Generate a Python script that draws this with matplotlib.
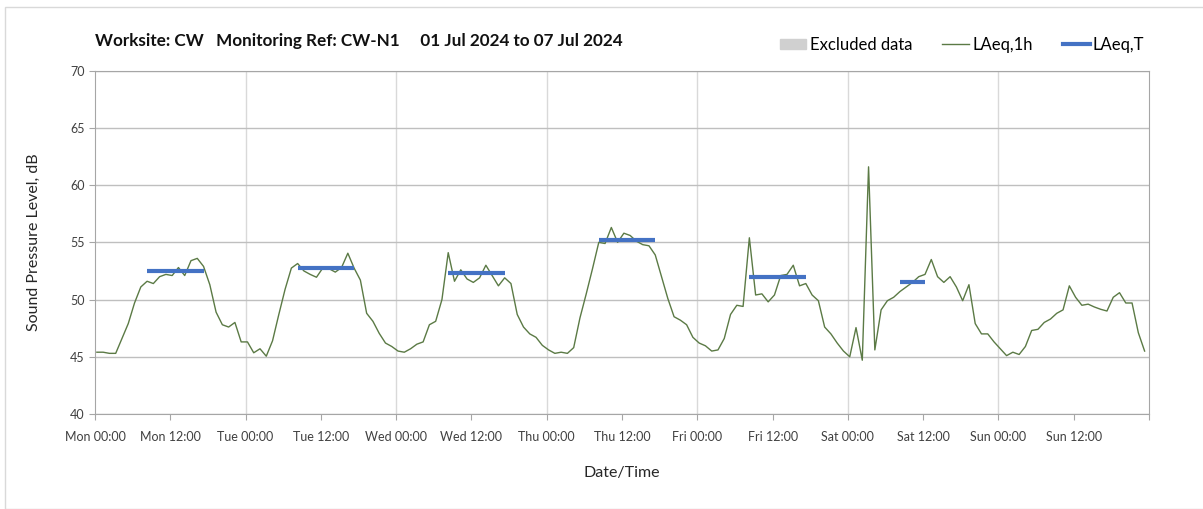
import numpy as np
import matplotlib
matplotlib.use("Agg")
import matplotlib.pyplot as plt
from matplotlib.patches import Patch, Rectangle
from matplotlib.lines import Line2D

plt.rcParams['font.family'] = ['Lato', 'DejaVu Sans']

# hourly LAeq,1h values, Mon 00:00 .. Sun 23:00
laeq_1h = [
    45.4, 45.4, 45.3, 45.3, 46.6, 47.9, 49.7, 51.1, 51.6, 51.4, 52.0, 52.2,
    52.1, 52.8, 52.1, 53.4, 53.6, 52.9, 51.3, 48.9, 47.8, 47.6, 48.0, 46.3,
    46.3, 45.35, 45.7, 45.05, 46.4, 48.7, 50.9, 52.75, 53.15, 52.5, 52.2, 51.95,
    52.75, 52.7, 52.4, 52.8, 54.05, 52.75, 51.7, 48.8, 48.1, 47.05, 46.2, 45.9,
    45.5, 45.4, 45.7, 46.1, 46.3, 47.8, 48.1, 50.0, 54.1, 51.6, 52.6, 51.8,
    51.5, 51.9, 53.0, 52.1, 51.2, 51.9, 51.4, 48.7, 47.6, 47.0, 46.7, 46.0,
    45.6, 45.3, 45.4, 45.3, 45.8, 48.4, 50.5, 52.7, 55.0, 54.9, 56.3, 55.0,
    55.8, 55.6, 55.1, 54.8, 54.7, 53.9, 52.0, 50.1, 48.5, 48.2, 47.8, 46.7,
    46.2, 45.96, 45.5, 45.6, 46.6, 48.7, 49.5, 49.4, 55.4, 50.4, 50.5, 49.8,
    50.4, 52.1, 52.2, 53.0, 51.2, 51.4, 50.4, 49.9, 47.6, 47.0, 46.2, 45.5,
    45.0, 47.55, 44.7, 61.6, 45.6, 49.1, 49.9, 50.2, 50.7, 51.1, 51.5, 52.0,
    52.2, 53.5, 52.0, 51.5, 52.0, 51.1, 49.9, 51.3, 47.9, 47.0, 47.0, 46.3,
    45.7, 45.1, 45.4, 45.2, 45.9, 47.3, 47.4, 48.0, 48.3, 48.8, 49.1, 51.2,
    50.2, 49.5, 49.6, 49.35, 49.15, 49.0, 50.2, 50.6, 49.7, 49.7, 47.1, 45.5,
]
hours = np.arange(len(laeq_1h)) + 0.3

# LAeq,T periods: (start hour, end hour, level)
period_start = [8, 32, 56, 80, 104, 128]
period_end = [17, 41, 65, 89, 113, 132]
laeq_t = [52.5, 52.8, 52.3, 55.2, 52.0, 51.5]

days = ['Mon', 'Tue', 'Wed', 'Thu', 'Fri', 'Sat', 'Sun']
tick_labels = [f'{d} {t}' for d in days for t in ['00:00', '12:00']]

fig = plt.figure(figsize=(12.03, 5.09), dpi=100)
ax = fig.add_axes([95 / 1203, 1 - 414 / 509, 1054 / 1203, 343.3 / 509])

ax.plot(hours, laeq_1h, color='#5b7a45', lw=1.0, zorder=3)
for s, e, v in zip(period_start, period_end, laeq_t):
    ax.plot([s + 0.3, e + 0.3], [v, v], color='#4472C4', lw=3, solid_capstyle='butt', zorder=4)

ax.set_xlim(0, 168)
ax.set_ylim(40, 70)
ax.set_yticks(range(40, 71, 5))
ax.set_xticks(range(0, 169, 12))
ax.set_xticklabels(tick_labels + [''])
ax.grid(axis='y', color='#bfbfbf', lw=1)
for d in range(24, 168, 24):
    ax.axvline(d, color='#d9d9d9', lw=1, zorder=0)
for s in ax.spines.values():
    s.set_color('#a6a6a6')
ax.tick_params(axis='both', colors='#a6a6a6', labelcolor='#404040', labelsize=9, length=4)
ax.tick_params(axis='x', pad=8)

ax.set_ylabel('Sound Pressure Level, dB', fontsize=11.5, color='#262626', labelpad=21)
ax.set_xlabel('Date/Time', fontsize=11.5, color='#262626', labelpad=17)

fig.text(95 / 1203, 1 - 41 / 509,
         'Worksite: CW   Monitoring Ref: CW-N1     01 Jul 2024 to 07 Jul 2024',
         fontsize=12.3, fontweight='bold', va='center', ha='left', color='#111111')

handles = [Patch(color='#d0d0d0', label='Excluded data'),
           Line2D([], [], color='#5b7a45', lw=1, label='LAeq,1h'),
           Line2D([], [], color='#4472C4', lw=3, label='LAeq,T')]
fig.legend(handles=handles, ncol=3, frameon=False, loc='center right',
           bbox_to_anchor=(1146 / 1203, 1 - 45 / 509), fontsize=12,
           handlelength=1.6, handleheight=0.6, handletextpad=0.2, columnspacing=1.8,
           borderpad=0.1, borderaxespad=0)

fig.add_artist(Rectangle((5 / 1203, 0), 1.2, 1 - 7 / 509, transform=fig.transFigure,
                         fill=False, edgecolor='#d9d9d9', lw=1))

fig.savefig('out.png', dpi=100)
